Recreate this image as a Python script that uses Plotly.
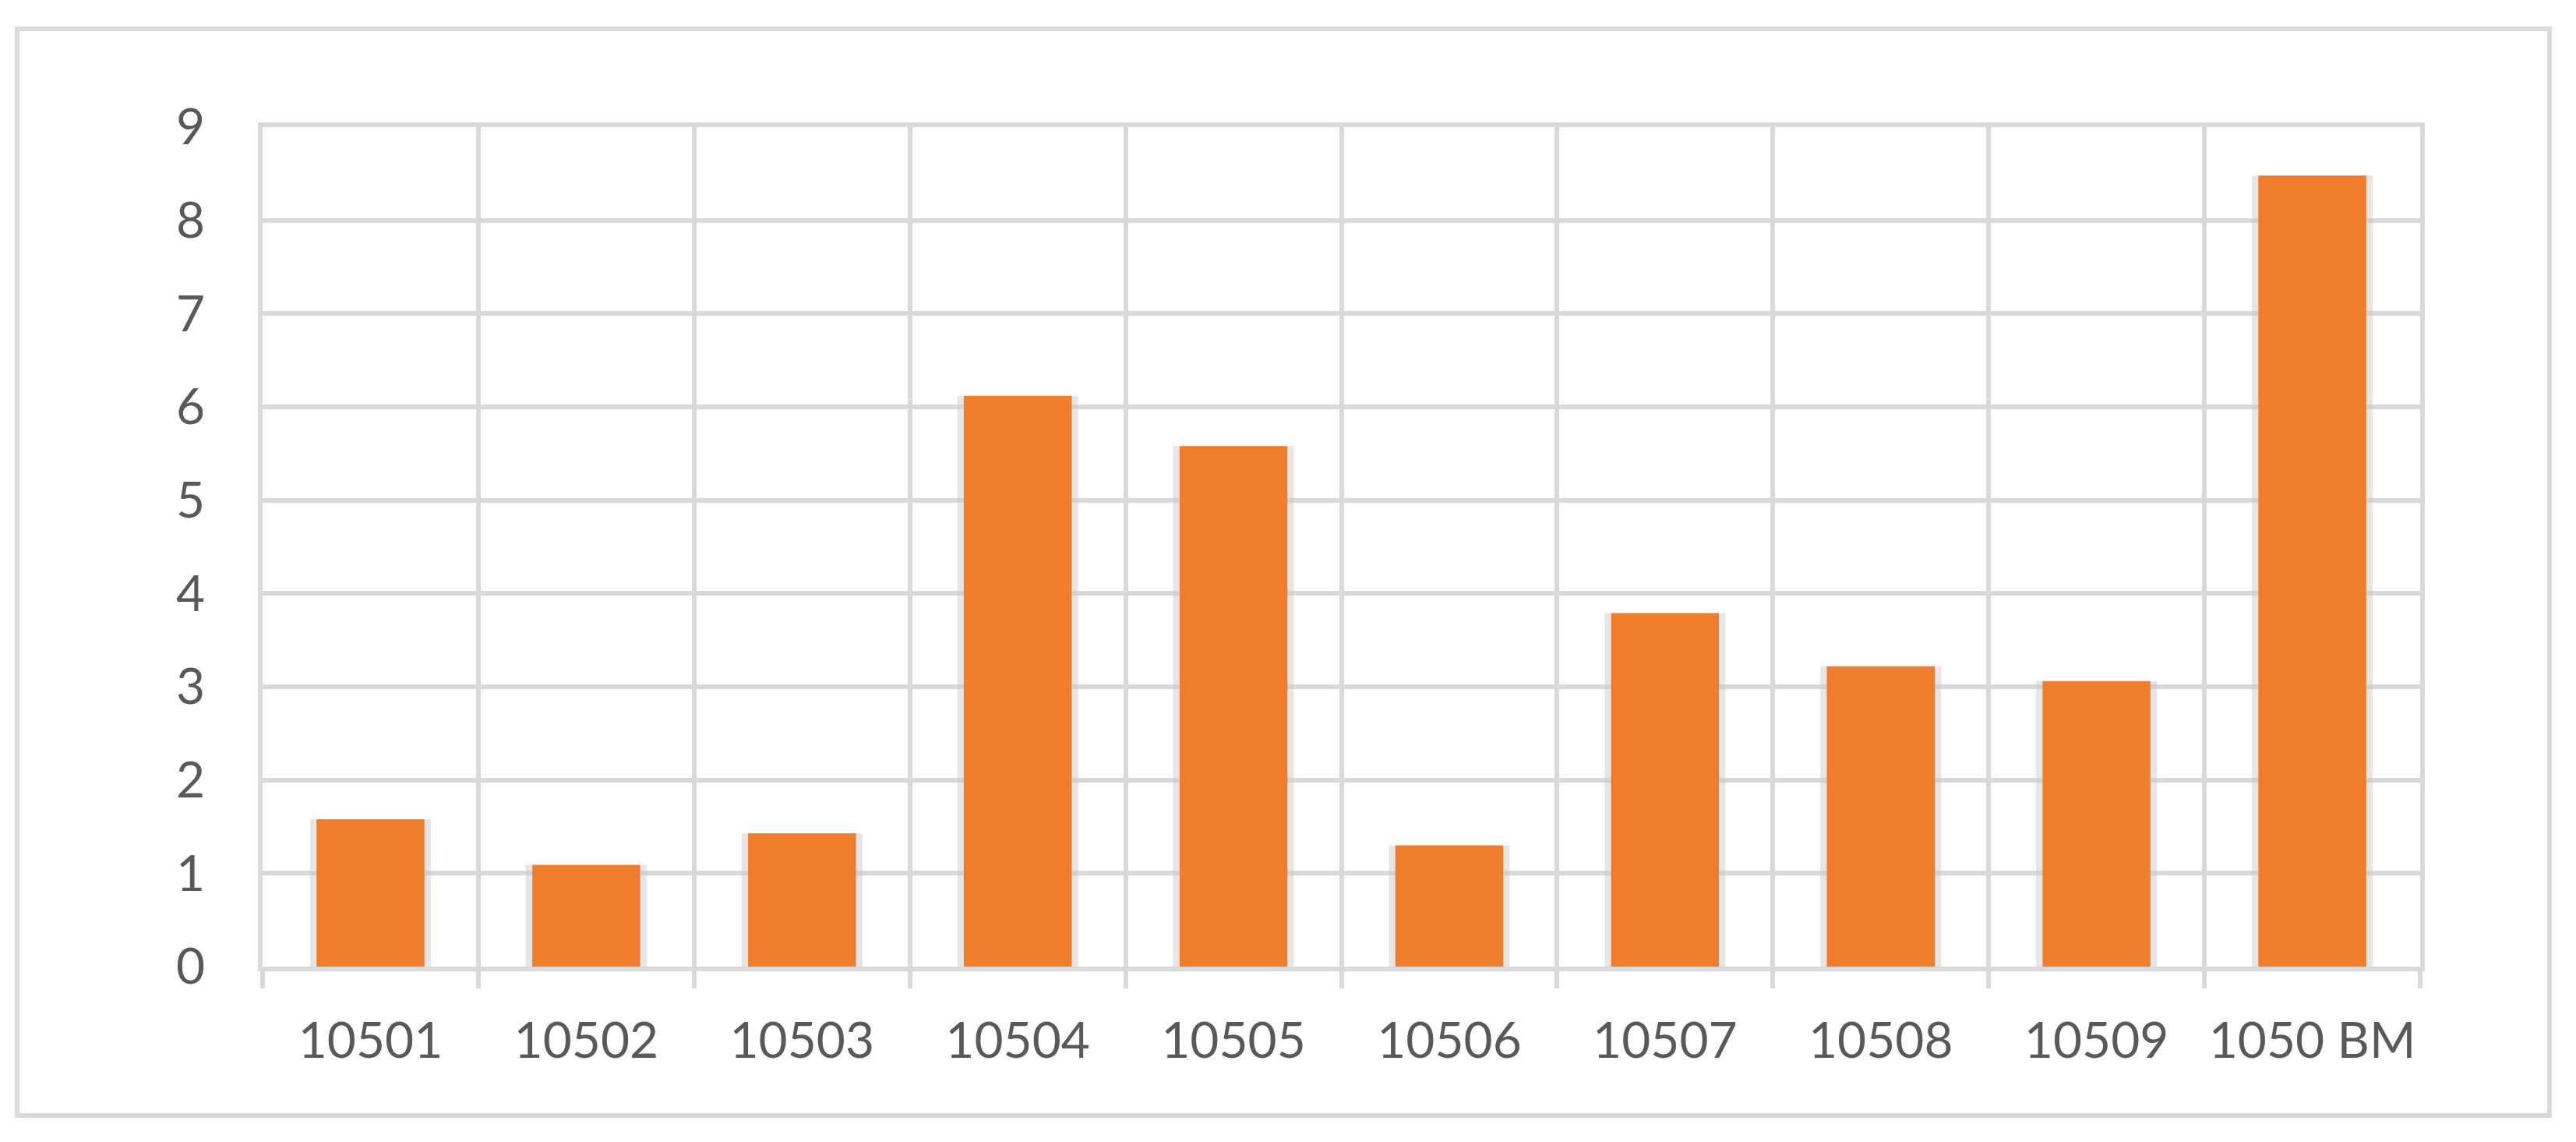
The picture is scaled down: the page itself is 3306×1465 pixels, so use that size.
import plotly.graph_objects as go

categories = ["10501", "10502", "10503", "10504", "10505", "10506", "10507", "10508", "10509", "1050 BM"]
values = [1.58, 1.09, 1.43, 6.12, 5.58, 1.30, 3.79, 3.22, 3.06, 8.48]
y_ticks = list(range(0, 10))

W, H = 3306, 1465
OFF = 8  # default page body margin of the html page
# plot area in page pixels: x 337..3106, y 163..1240
L = 337 - OFF
T = 163 - OFF
R = W - 3106 + OFF
B = H - 1240 + OFF
pw, ph = W - L - R, H - T - B

GRID = "#d9d9d9"
TXT = "#595959"
FONT = "Lato"
FS = 64

fig = go.Figure()

# soft halo behind bars
fig.add_trace(go.Bar(
    x=categories, y=values, width=0.56,
    marker=dict(color="rgba(200,200,200,0.45)", line=dict(width=0)),
    hoverinfo="skip", showlegend=False,
))
fig.add_trace(go.Bar(
    x=categories, y=values, width=0.5,
    marker=dict(color="#F07D2C", line=dict(width=0)),
    showlegend=False,
))

# outer chart border (page pixel positions converted to paper coords)
def px_x(p):
    return (p - OFF - L) / pw

def px_y(p):
    return (H - B - (p - OFF)) / ph

fig.add_shape(type="rect", xref="paper", yref="paper",
              x0=px_x(22), x1=px_x(3272), y0=px_y(1431), y1=px_y(37),
              line=dict(color=GRID, width=6), fillcolor="rgba(0,0,0,0)", layer="below")

fig.update_layout(
    width=W, height=H,
    margin=dict(l=L, r=R, t=T, b=B, autoexpand=False),
    paper_bgcolor="white", plot_bgcolor="white",
    barmode="overlay",
    font=dict(family=FONT, color=TXT, size=FS),
    showlegend=False,
    xaxis=dict(
        type="category", tickson="boundaries", tickangle=0,
        showgrid=True, gridcolor=GRID, gridwidth=6,
        ticks="outside", ticklen=22, tickwidth=6, tickcolor=GRID,
        showline=True, mirror=True, linecolor=GRID, linewidth=6,
        tickfont=dict(family=FONT, color=TXT, size=FS),
        ticklabelstandoff=34,
        range=[-0.5, 9.5],
    ),
    yaxis=dict(
        range=[0, 9], tickvals=y_ticks, ticktext=[str(v) for v in y_ticks],
        showgrid=True, gridcolor=GRID, gridwidth=6,
        zeroline=False,
        showline=True, mirror=True, linecolor=GRID, linewidth=6,
        ticks="", tickfont=dict(family=FONT, color=TXT, size=FS),
        ticklabelstandoff=55,
    ),
)

fig.write_html("out.html")
